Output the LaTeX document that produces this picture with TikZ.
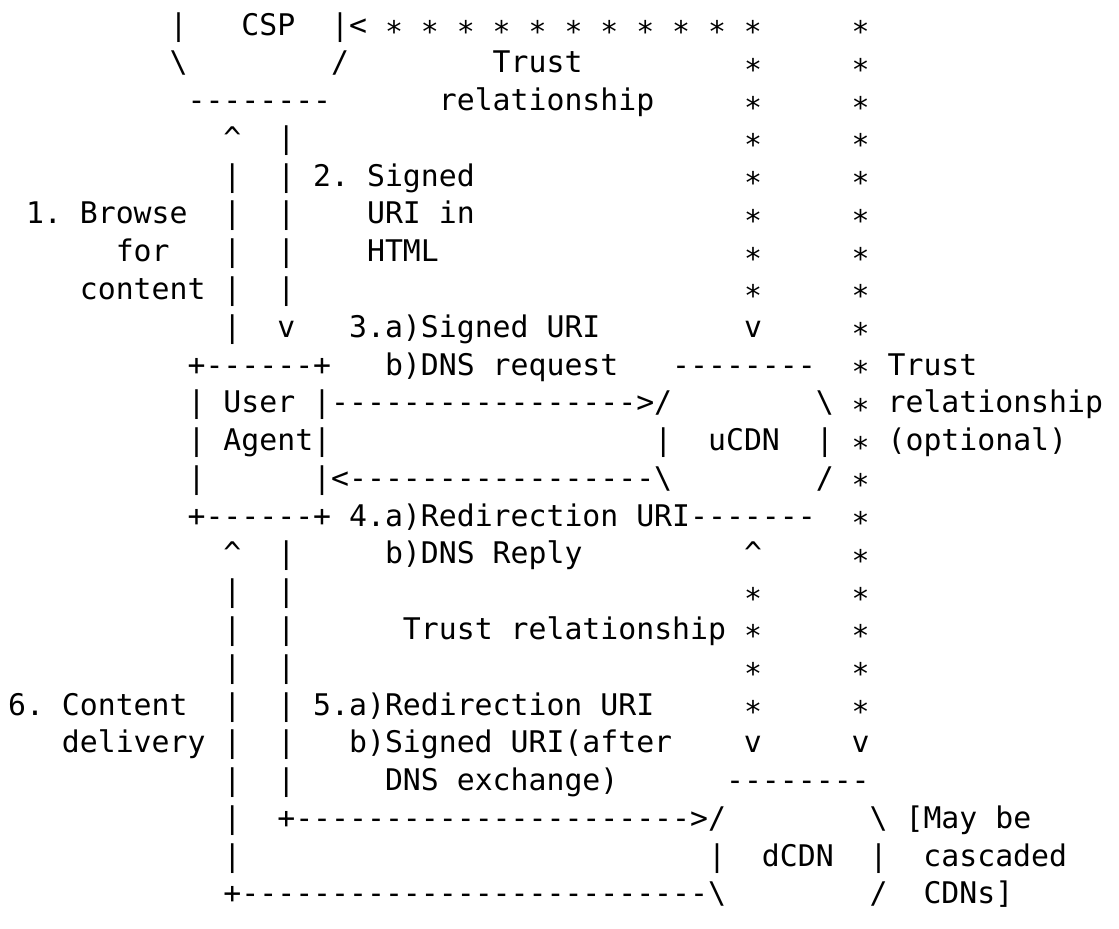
\documentclass[tikz,border=0pt]{standalone}
\usepackage{fontspec}
\setmonofont{DejaVu Sans Mono}
\newcommand\tstar{\raisebox{-.25em}{*}}

\begin{document}
\begin{tikzpicture}[x=8.975pt,y=-18.89pt,
  ascii/.style={anchor=base west,inner sep=0pt,outer sep=0pt,
    font=\ttfamily\fontsize{14.907pt}{18pt}\selectfont,
    execute at begin node={\obeyspaces\frenchspacing}}]
\fill[white] (14.549,0.0736) rectangle (76.89,24.663);
\node[ascii] (l1) at (24,1) {|   CSP  |< \tstar \tstar \tstar \tstar \tstar \tstar \tstar \tstar \tstar \tstar \tstar     \tstar};
\node[ascii] (l2) at (24,2) {\textbackslash        /        Trust         \tstar     \tstar};
\node[ascii] (l3) at (25,3) {--------      relationship     \tstar     \tstar};
\node[ascii] (l4) at (27,4) {\textasciicircum  |                         \tstar     \tstar};
\node[ascii] (l5) at (27,5) {|  | 2. Signed               \tstar     \tstar};
\node[ascii] (l6) at (16,6) {1. Browse  |  |    URI in               \tstar     \tstar};
\node[ascii] (l7) at (21,7) {for   |  |    HTML                 \tstar     \tstar};
\node[ascii] (l8) at (19,8) {content |  |                         \tstar     \tstar};
\node[ascii] (l9) at (27,9) {|  v   3.a)Signed URI        v     \tstar};
\node[ascii] (l10) at (25,10) {+------+   b)DNS request   --------  \tstar Trust};
\node[ascii] (l11) at (25,11) {| User |----------------->/        \textbackslash \tstar relationship};
\node[ascii] (l12) at (25,12) {| Agent|                  |  uCDN  | \tstar (optional)};
\node[ascii] (l13) at (25,13) {|      |<-----------------\textbackslash        / \tstar};
\node[ascii] (l14) at (25,14) {+------+ 4.a)Redirection URI-------  \tstar};
\node[ascii] (l15) at (27,15) {\textasciicircum  |     b)DNS Reply         \textasciicircum     \tstar};
\node[ascii] (l16) at (27,16) {|  |                         \tstar     \tstar};
\node[ascii] (l17) at (27,17) {|  |      Trust relationship \tstar     \tstar};
\node[ascii] (l18) at (27,18) {|  |                         \tstar     \tstar};
\node[ascii] (l19) at (15,19) {6. Content  |  | 5.a)Redirection URI     \tstar     \tstar};
\node[ascii] (l20) at (18,20) {delivery |  |   b)Signed URI(after    v     v};
\node[ascii] (l21) at (27,21) {|  |     DNS exchange)      --------};
\node[ascii] (l22) at (27,22) {|  +---------------------->/        \textbackslash [May be};
\node[ascii] (l23) at (27,23) {|                          |  dCDN  |  cascaded};
\node[ascii] (l24) at (27,24) {+--------------------------\textbackslash        /  CDNs]};
\end{tikzpicture}
\end{document}
